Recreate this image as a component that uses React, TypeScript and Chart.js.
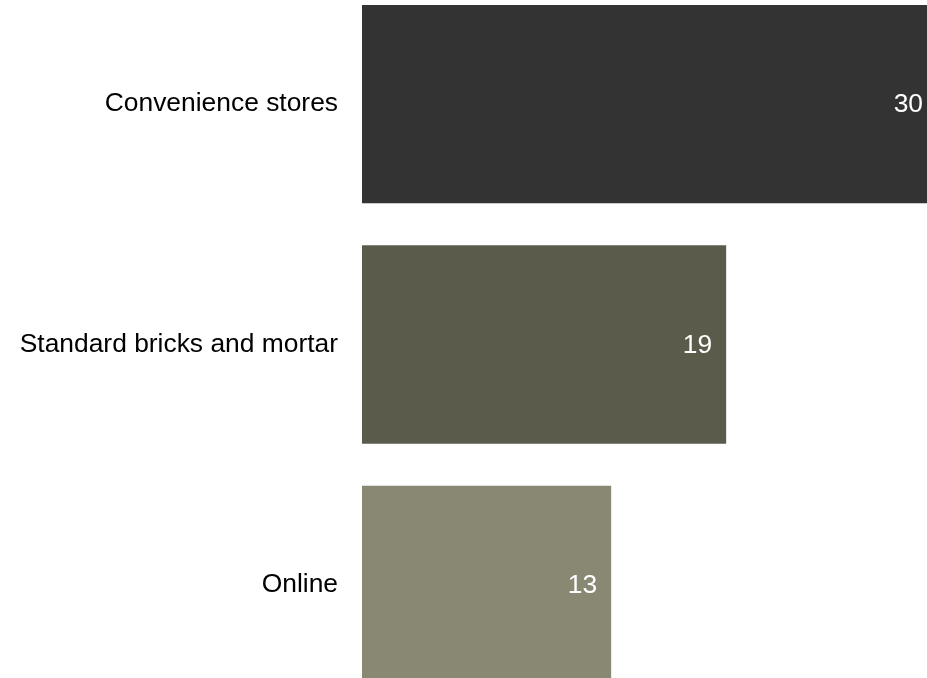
import React, { useEffect, useRef } from "react";
import { Chart, registerables } from "chart.js";

Chart.register(...registerables);

const categories = ["Convenience stores", "Standard bricks and mortar", "Online"];
const values = [30, 19, 13];
const barColors = ["#333333", "#5b5b4b", "#898873"];
const FONT = "'Liberation Sans', Arial, Helvetica, sans-serif";

const valueLabels = {
  id: "valueLabels",
  afterDatasetsDraw(chart: any) {
    const { ctx } = chart;
    const meta = chart.getDatasetMeta(0);
    ctx.save();
    ctx.font = `26.4px ${FONT}`;
    ctx.fillStyle = "#ffffff";
    ctx.textAlign = "right";
    ctx.textBaseline = "middle";
    meta.data.forEach((bar: any, i: number) => {
      ctx.fillText(String(values[i]), bar.x - 14, bar.y + 1);
    });
    ctx.restore();
  },
};

export default function App() {
  const ref = useRef<HTMLCanvasElement | null>(null);
  useEffect(() => {
    if (!ref.current) return;
    const chart = new Chart(ref.current, {
      type: "bar",
      data: {
        labels: categories,
        datasets: [
          {
            data: values,
            backgroundColor: barColors,
            borderWidth: 0,
            barPercentage: 1,
            categoryPercentage: 0.825,
          },
        ],
      },
      options: {
        indexAxis: "y",
        responsive: false,
        animation: false,
        layout: { padding: 0 },
        plugins: { legend: { display: false }, tooltip: { enabled: false } },
        scales: {
          x: { display: false, min: 0, max: 30 },
          y: {
            grid: { display: false },
            border: { display: false },
            ticks: {
              color: "#000000",
              padding: 16,
              font: { family: FONT, size: 26.4 },
            },
            afterFit(scale: any) {
              scale.width = 362;
            },
          },
        },
      },
      plugins: [valueLabels],
    });
    return () => chart.destroy();
  }, []);
  return (
    <div
      style={{
        position: "fixed",
        left: 0,
        top: 0,
        width: 927,
        height: 678,
        overflow: "hidden",
        background: "#ffffff",
      }}
    >
      <canvas
        ref={ref}
        width={937}
        height={785}
        style={{ position: "absolute", left: 0, top: -48, width: 937, height: 785 }}
      />
    </div>
  );
}
